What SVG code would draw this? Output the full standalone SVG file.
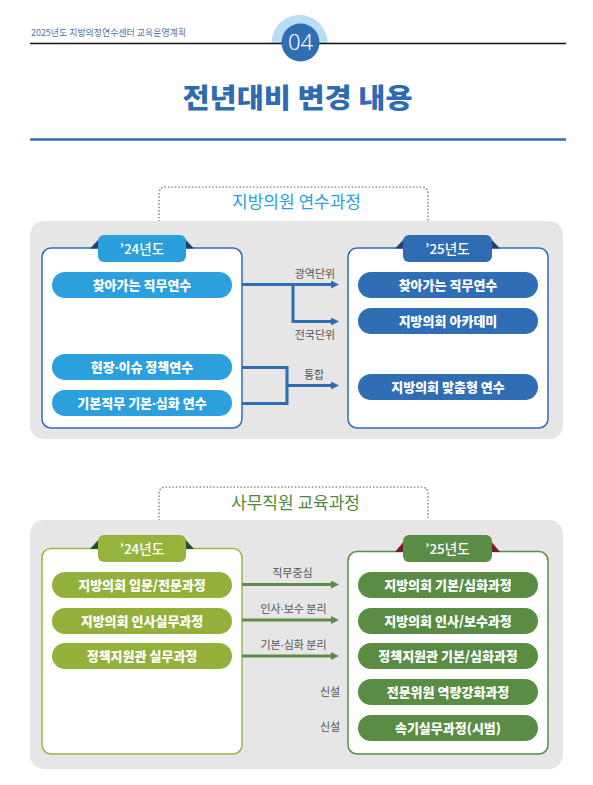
<svg xmlns="http://www.w3.org/2000/svg" width="593" height="785" viewBox="0 0 593 785">
<defs>
<style>
text{font-family:"Noto Sans CJK KR","Noto Sans",sans-serif}
.pill{font-size:13px;font-weight:800;fill:#fff;text-anchor:middle}
.tab{font-size:13.5px;font-weight:500;fill:#fff;text-anchor:middle}
.lbl{font-size:11px;fill:#555;text-anchor:middle}
.d{font-family:"Noto Sans",sans-serif}
.panel{fill:#e6e6e6}
.box{fill:#fff;stroke-width:1.5}
.dots{fill:none;stroke:#8a8a8a;stroke-width:1.7;stroke-dasharray:0.1 3.3;stroke-linecap:round}
.c1{fill:none;stroke:#2e6db4;stroke-width:3}
.c2{fill:none;stroke:#5b8d46;stroke-width:3}
</style>
<marker id="a1" viewBox="0 0 8 8" refX="1" refY="4" markerWidth="8" markerHeight="8" markerUnits="userSpaceOnUse" orient="auto"><path d="M0,0 L8,4 L0,8 z" fill="#2e6db4"/></marker>
<marker id="a2" viewBox="0 0 8 8" refX="1" refY="4" markerWidth="8" markerHeight="8" markerUnits="userSpaceOnUse" orient="auto"><path d="M0,0 L8,4 L0,8 z" fill="#5b8d46"/></marker>
</defs>
<rect width="593" height="785" fill="#fff"/>

<g id="header">
<text x="31" y="36" font-size="9.5" fill="#4f74a8" textLength="155" lengthAdjust="spacingAndGlyphs">2025년도 지방의정연수센터 교육운영계획</text>
<path d="M271.5,43 A28,28 0 0 1 327.5,43 Z" fill="#b9ddf4"/>
<line x1="30" y1="43.5" x2="566" y2="43.5" stroke="#111" stroke-width="1.3"/>
<circle cx="300.5" cy="42.5" r="19" fill="#2f6db5"/>
<text x="300.5" y="50" font-size="22" font-weight="300" fill="#fff" text-anchor="middle" style="font-family:'Noto Sans',sans-serif">04</text>
</g>

<g id="title">
<text x="297.5" y="108" font-size="27" font-weight="900" fill="#2f6bb3" text-anchor="middle" textLength="230" lengthAdjust="spacingAndGlyphs">전년대비 변경 내용</text>
<line x1="30" y1="139.5" x2="566" y2="139.5" stroke="#2e6db4" stroke-width="2.5"/>
</g>

<!-- Section 1 -->
<g id="sec1-frame">
<path class="dots" d="M159,221 V194 Q159,187 166,187 H421 Q428,187 428,194 V221"/>
<text x="296.5" y="208" font-size="17" fill="#2a9fdc" text-anchor="middle">지방의원 연수과정</text>
<rect class="panel" x="30" y="221" width="533" height="218" rx="14"/>
</g>

<g id="sec1-left">
<rect class="box" x="42" y="248" width="200" height="180" rx="9" stroke="#2e6db4"/>
<polygon points="90,248.5 100,238 100,248.5" fill="#1f3f7c"/>
<polygon points="194,248.5 184,238 184,248.5" fill="#1f3f7c"/>
<rect x="98" y="235" width="88" height="27" rx="6" fill="#2a9fdc"/>
<text class="tab" x="142" y="254">’24년도</text>
</g>
<g id="s1-l1"><rect x="52" y="272" width="180" height="26" rx="13" fill="#2ba0dc"/><text class="pill" x="142" y="289.5">찾아가는 직무연수</text></g>
<g id="s1-l2"><rect x="52" y="354" width="180" height="26" rx="13" fill="#2ba0dc"/><text class="pill" x="142" y="371.5">현장<tspan class="d">·</tspan>이슈 정책연수</text></g>
<g id="s1-l3"><rect x="52" y="390" width="180" height="26" rx="13" fill="#2ba0dc"/><text class="pill" x="142" y="407.5">기본직무 기본<tspan class="d">·</tspan>심화 연수</text></g>

<g id="sec1-right">
<rect class="box" x="348" y="248" width="200" height="180" rx="9" stroke="#2e6db4"/>
<polygon points="395,248.5 405,238 405,248.5" fill="#1f3f7c"/>
<polygon points="500,248.5 490,238 490,248.5" fill="#1f3f7c"/>
<rect x="403" y="235" width="89" height="27" rx="6" fill="#2e6db4"/>
<text class="tab" x="447.5" y="254">’25년도</text>
</g>
<g id="s1-r1"><rect x="358" y="272" width="180" height="26" rx="13" fill="#2f6db5"/><text class="pill" x="448" y="289.5">찾아가는 직무연수</text></g>
<g id="s1-r2"><rect x="358" y="308" width="180" height="26" rx="13" fill="#2f6db5"/><text class="pill" x="448" y="325.5">지방의회 아카데미</text></g>
<g id="s1-r3"><rect x="358" y="374" width="180" height="26" rx="13" fill="#2f6db5"/><text class="pill" x="448" y="391.5">지방의회 맞춤형 연수</text></g>

<g id="sec1-connectors">
<path class="c1" d="M242,284.5 H332" marker-end="url(#a1)"/>
<path class="c1" d="M293,284.5 V321.5 H332" marker-end="url(#a1)"/>
<path class="c1" d="M242,367.5 H287 V403.5 H242"/>
<path class="c1" d="M287,385.5 H332" marker-end="url(#a1)"/>
<text class="lbl" x="315" y="277.5">광역단위</text>
<text class="lbl" x="315" y="339">전국단위</text>
<text class="lbl" x="314" y="378.5">통합</text>
</g>

<!-- Section 2 -->
<g id="sec2-frame">
<path class="dots" d="M159,520 V494 Q159,487 166,487 H421 Q428,487 428,494 V520"/>
<text x="295.5" y="509" font-size="17" fill="#4d8a3a" text-anchor="middle">사무직원 교육과정</text>
<rect class="panel" x="30" y="520" width="533" height="249" rx="14"/>
</g>

<g id="sec2-left">
<rect class="box" x="42" y="548.5" width="200" height="205.5" rx="9" stroke="#9ab843"/>
<polygon points="90,549 100,538 100,549" fill="#1e5230"/>
<polygon points="194,549 184,538 184,549" fill="#1e5230"/>
<rect x="98" y="535" width="88" height="27" rx="6" fill="#96b43c"/>
<text class="tab" x="142" y="554">’24년도</text>
</g>
<g id="s2-l1"><rect x="52" y="572" width="180" height="26" rx="13" fill="#93b13a"/><text class="pill" x="142" y="589.5">지방의회 입문/전문과정</text></g>
<g id="s2-l2"><rect x="52" y="608" width="180" height="26" rx="13" fill="#93b13a"/><text class="pill" x="142" y="625.5">지방의회 인사실무과정</text></g>
<g id="s2-l3"><rect x="52" y="643" width="180" height="26" rx="13" fill="#93b13a"/><text class="pill" x="142" y="660.5">정책지원관 실무과정</text></g>

<g id="sec2-right">
<rect class="box" x="348" y="551.5" width="200" height="202.5" rx="9" stroke="#5b8d46"/>
<polygon points="395,552 405,540 405,552" fill="#7b1d24"/>
<polygon points="500,552 490,540 490,552" fill="#7b1d24"/>
<rect x="403" y="535" width="89" height="27" rx="6" fill="#5b8d46"/>
<text class="tab" x="447.5" y="554">’25년도</text>
</g>
<g id="s2-r1"><rect x="358" y="572" width="180" height="26" rx="13" fill="#5a8c44"/><text class="pill" x="448" y="589.5">지방의회 기본/심화과정</text></g>
<g id="s2-r2"><rect x="358" y="608" width="180" height="26" rx="13" fill="#5a8c44"/><text class="pill" x="448" y="625.5">지방의회 인사/보수과정</text></g>
<g id="s2-r3"><rect x="358" y="643" width="180" height="26" rx="13" fill="#5a8c44"/><text class="pill" x="448" y="660.5">정책지원관 기본/심화과정</text></g>
<g id="s2-r4"><rect x="358" y="679" width="180" height="26" rx="13" fill="#5a8c44"/><text class="pill" x="448" y="696.5">전문위원 역량강화과정</text></g>
<g id="s2-r5"><rect x="358" y="715" width="180" height="26" rx="13" fill="#5a8c44"/><text class="pill" x="448" y="732.5">속기실무과정(시범)</text></g>

<g id="sec2-connectors">
<path class="c2" d="M242,584.5 H332" marker-end="url(#a2)"/>
<path class="c2" d="M242,620 H332" marker-end="url(#a2)"/>
<path class="c2" d="M242,656 H332" marker-end="url(#a2)"/>
<text class="lbl" x="292.5" y="577">직무중심</text>
<text class="lbl" x="293.5" y="613">인사<tspan class="d">·</tspan>보수 분리</text>
<text class="lbl" x="293.5" y="649">기본<tspan class="d">·</tspan>심화 분리</text>
<text class="lbl" x="330" y="696">신설</text>
<text class="lbl" x="330" y="731">신설</text>
</g>
</svg>
